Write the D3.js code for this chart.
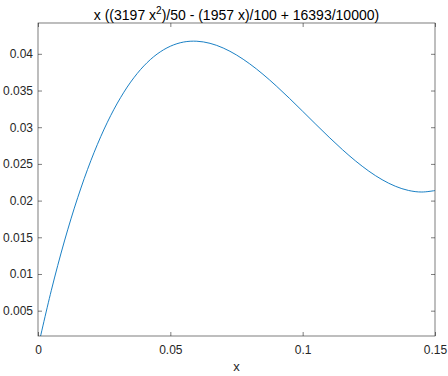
<!DOCTYPE html>
<html lang="en">
<head>
<meta charset="UTF-8" />
<title>fplot</title>
<style>
  body { margin: 0; background: #fff; }
  svg { display: block; font-family: Arial, "Liberation Sans", sans-serif; }
  .tick text { font-size: 12px; fill: #262626; }
</style>
</head>
<body>
<svg width="448" height="376"></svg>
<script src="https://d3js.org/d3.v7.min.js"></script>
<script>
const xs = [0, 0.005, 0.01, 0.015, 0.02, 0.025, 0.03, 0.035, 0.04, 0.045, 0.05,
  0.055, 0.06, 0.065, 0.07, 0.075, 0.08, 0.085, 0.09, 0.095, 0.1,
  0.105, 0.11, 0.115, 0.12, 0.125, 0.13, 0.135, 0.14, 0.145, 0.15];
const ys = [0, 0.007715, 0.014501, 0.020402, 0.025470, 0.029750, 0.033292, 0.036144, 0.038352, 0.039966, 0.041033,
  0.041606, 0.041717, 0.041431, 0.040789, 0.039841, 0.038633, 0.037214, 0.035632, 0.033935, 0.032170,
  0.030386, 0.028630, 0.026951, 0.025396, 0.024014, 0.022852, 0.021959, 0.021381, 0.021168, 0.021368];
const xTicks = [0, 0.05, 0.1, 0.15];
const yTicks = [0.005, 0.01, 0.015, 0.02, 0.025, 0.03, 0.035, 0.04];

const svg = d3.select("svg");
const m = { left: 38, right: 435, top: 23, bottom: 336 };

const x = d3.scaleLinear().domain([0, 0.15]).range([m.left, m.right]);
const y = d3.scaleLinear().domain([0.00155, 0.0442]).range([m.bottom, m.top]);

const axisColor = "#262626";
const tickLen = 4;

svg.append("defs").append("clipPath").attr("id", "clip")
  .append("rect")
  .attr("x", m.left).attr("y", m.top)
  .attr("width", m.right - m.left).attr("height", m.bottom - m.top);

// curve
const pts = xs.map((v, i) => [v, ys[i]]);
svg.append("path")
  .datum(pts)
  .attr("clip-path", "url(#clip)")
  .attr("fill", "none")
  .attr("stroke", "#0072BD")
  .attr("stroke-width", 0.9)
  .attr("d", d3.line().x(d => x(d[0])).y(d => y(d[1])).curve(d3.curveCatmullRom));

// axes (ticks inward, box)
function styleAxis(g) {
  g.select(".domain").remove();
  g.selectAll(".tick line").attr("stroke", axisColor).attr("stroke-width", 0.6);
}
svg.append("g").attr("transform", `translate(0,${m.bottom})`)
  .call(d3.axisBottom(x).tickValues(xTicks).tickFormat(d3.format("~g")).tickSizeInner(-tickLen).tickPadding(9))
  .call(styleAxis);
svg.append("g").attr("transform", `translate(0,${m.top})`)
  .call(d3.axisTop(x).tickValues(xTicks).tickSizeInner(-tickLen).tickFormat(""))
  .call(styleAxis);
svg.append("g").attr("transform", `translate(${m.left},0)`)
  .call(d3.axisLeft(y).tickValues(yTicks).tickFormat(d3.format("~g")).tickSizeInner(-tickLen).tickPadding(5))
  .call(styleAxis);
svg.append("g").attr("transform", `translate(${m.right},0)`)
  .call(d3.axisRight(y).tickValues(yTicks).tickSizeInner(-tickLen).tickFormat(""))
  .call(styleAxis);

svg.append("rect")
  .attr("x", m.left).attr("y", m.top)
  .attr("width", m.right - m.left).attr("height", m.bottom - m.top)
  .attr("fill", "none").attr("stroke", axisColor).attr("stroke-width", 0.6);

// labels
svg.append("text")
  .attr("x", (m.left + m.right) / 2).attr("y", 371)
  .attr("text-anchor", "middle").attr("font-size", 13).attr("fill", axisColor)
  .text("x");

const title = svg.append("text")
  .attr("x", (m.left + m.right) / 2).attr("y", 20)
  .attr("text-anchor", "middle").attr("font-size", 14).attr("fill", "#000");
title.append("tspan").text("x ((3197 x");
title.append("tspan").attr("dy", -6).attr("font-size", 10).text("2");
title.append("tspan").attr("dy", 6).text(")/50 - (1957 x)/100 + 16393/10000)");
</script>
</body>
</html>
